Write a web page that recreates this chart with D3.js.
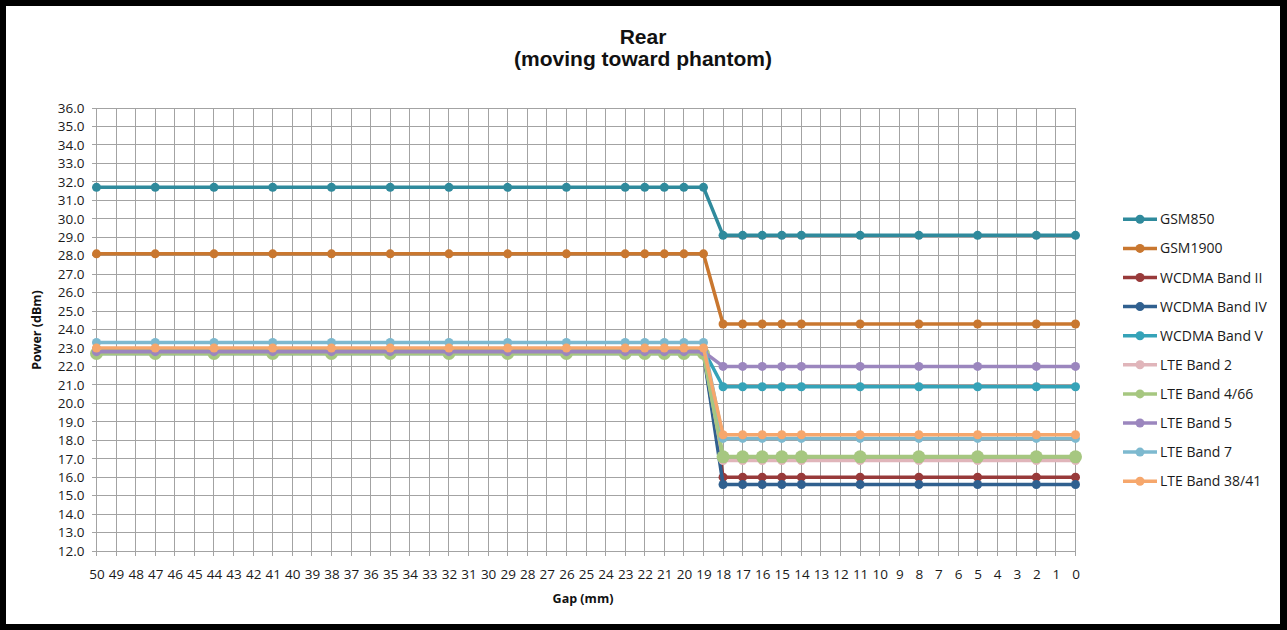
<!DOCTYPE html>
<html><head><meta charset="utf-8">
<script src="https://cdn.jsdelivr.net/npm/d3@7"></script>
<style>body{margin:0;background:#000;overflow:hidden}svg{display:block}</style>
</head><body>
<svg id="c" width="1287" height="630"></svg>
<script>
// ---- data ----
const categories = ["50","49","48","47","46","45","44","43","42","41","40","39","38","37","36","35","34","33","32","31","30","29","28","27","26","25","24","23","22","21","20","19","18","17","16","15","14","13","12","11","10","9","8","7","6","5","4","3","2","1","0"];
const yTicks = [12,13,14,15,16,17,18,19,20,21,22,23,24,25,26,27,28,29,30,31,32,33,34,35,36];
const measuredGaps = ["50","47","44","41","38","35","32","29","26","23","22","21","20","19","18","17","16","15","14","11","8","5","2","0"];
const seriesNames = ["GSM850","GSM1900","WCDMA Band II","WCDMA Band IV","WCDMA Band V","LTE Band 2","LTE Band 4/66","LTE Band 5","LTE Band 7","LTE Band 38/41"];
const gsm850    = [31.7,31.7,31.7,31.7,31.7,31.7,31.7,31.7,31.7,31.7,31.7,31.7,31.7,31.7,29.1,29.1,29.1,29.1,29.1,29.1,29.1,29.1,29.1,29.1];
const gsm1900   = [28.1,28.1,28.1,28.1,28.1,28.1,28.1,28.1,28.1,28.1,28.1,28.1,28.1,28.1,24.3,24.3,24.3,24.3,24.3,24.3,24.3,24.3,24.3,24.3];
const wcdmaII   = [22.8,22.8,22.8,22.8,22.8,22.8,22.8,22.8,22.8,22.8,22.8,22.8,22.8,22.8,16.0,16.0,16.0,16.0,16.0,16.0,16.0,16.0,16.0,16.0];
const wcdmaIV   = [22.7,22.7,22.7,22.7,22.7,22.7,22.7,22.7,22.7,22.7,22.7,22.7,22.7,22.7,15.6,15.6,15.6,15.6,15.6,15.6,15.6,15.6,15.6,15.6];
const wcdmaV    = [22.9,22.9,22.9,22.9,22.9,22.9,22.9,22.9,22.9,22.9,22.9,22.9,22.9,22.9,20.9,20.9,20.9,20.9,20.9,20.9,20.9,20.9,20.9,20.9];
const lte2      = [22.8,22.8,22.8,22.8,22.8,22.8,22.8,22.8,22.8,22.8,22.8,22.8,22.8,22.8,16.9,16.9,16.9,16.9,16.9,16.9,16.9,16.9,16.9,16.9];
const lte4_66   = [22.7,22.7,22.7,22.7,22.7,22.7,22.7,22.7,22.7,22.7,22.7,22.7,22.7,22.7,17.1,17.1,17.1,17.1,17.1,17.1,17.1,17.1,17.1,17.1];
const lte5      = [22.8,22.8,22.8,22.8,22.8,22.8,22.8,22.8,22.8,22.8,22.8,22.8,22.8,22.8,22.0,22.0,22.0,22.0,22.0,22.0,22.0,22.0,22.0,22.0];
const lte7      = [23.3,23.3,23.3,23.3,23.3,23.3,23.3,23.3,23.3,23.3,23.3,23.3,23.3,23.3,18.1,18.1,18.1,18.1,18.1,18.1,18.1,18.1,18.1,18.1];
const lte38_41  = [23.0,23.0,23.0,23.0,23.0,23.0,23.0,23.0,23.0,23.0,23.0,23.0,23.0,23.0,18.3,18.3,18.3,18.3,18.3,18.3,18.3,18.3,18.3,18.3];
const seriesValues = [gsm850,gsm1900,wcdmaII,wcdmaIV,wcdmaV,lte2,lte4_66,lte5,lte7,lte38_41];
const seriesColors = ["#2F8A9C","#C9772F","#983A3A","#30608F","#35A3B8","#E0B5BA","#A6C780","#9B86BE","#7DB9CF","#F6A76C"];

// ---- layout ----
const svg = d3.select("#c");
svg.append("rect").attr("width",1287).attr("height",630).attr("fill","#000");
svg.append("rect").attr("x",6).attr("y",6).attr("width",1274).attr("height",618).attr("fill","#fff");

const x = d3.scalePoint().domain(categories).range([96.5, 1075.5]);
const y = d3.scaleLinear().domain([12,36]).range([551,108]);
const gridColor = "#A3A3A3";
const fontTick = "'Open Sans', sans-serif";

// gridlines
const g = svg.append("g");
g.selectAll("line.h").data(yTicks).join("line")
  .attr("x1",x("50")-5).attr("x2",x("0")).attr("y1",d=>y(d)).attr("y2",d=>y(d))
  .attr("stroke",gridColor).attr("stroke-width",1).attr("shape-rendering","crispEdges");
g.selectAll("line.v").data(categories).join("line")
  .attr("x1",d=>x(d)).attr("x2",d=>x(d)).attr("y1",y(36)).attr("y2",y(12)+5)
  .attr("stroke",gridColor).attr("stroke-width",1).attr("shape-rendering","crispEdges");

// axes labels via d3 axes
const xAxis = svg.append("g").attr("transform",`translate(0,${y(12)})`)
  .call(d3.axisBottom(x).tickSize(0).tickPadding(18));
xAxis.select(".domain").remove();
xAxis.selectAll("text").attr("font-family",fontTick).attr("font-size",13.5).attr("fill","#1a1a1a");

const yAxis = svg.append("g").attr("transform",`translate(${x("50")},0)`)
  .call(d3.axisLeft(y).tickValues(yTicks).tickFormat(d3.format(".1f")).tickSize(0).tickPadding(12));
yAxis.select(".domain").remove();
yAxis.selectAll("text").attr("font-family",fontTick).attr("font-size",13.5).attr("fill","#1a1a1a");

// series
const line = d3.line().x(d=>x(d.gap)).y(d=>y(d.v));
seriesNames.forEach((name,i)=>{
  const pts = measuredGaps.map((gap,j)=>({gap, v: seriesValues[i][j]}));
  const big = name === "LTE Band 4/66";
  svg.append("path").datum(pts).attr("d",line)
    .attr("fill","none").attr("stroke",seriesColors[i])
    .attr("stroke-width", big ? 4 : 3.5).attr("stroke-linejoin","round");
  svg.append("g").selectAll("circle").data(pts).join("circle")
    .attr("cx",d=>x(d.gap)).attr("cy",d=>y(d.v)).attr("r", big ? 6.5 : 4.5)
    .attr("fill",seriesColors[i]);
});

// titles
svg.append("text").attr("x",643).attr("y",44).attr("text-anchor","middle")
  .attr("font-family","'Liberation Sans', Arial, sans-serif").attr("font-weight","bold").attr("font-size",21).attr("fill","#111").text("Rear");
svg.append("text").attr("x",643).attr("y",66).attr("text-anchor","middle")
  .attr("font-family","'Liberation Sans', Arial, sans-serif").attr("font-weight","bold").attr("font-size",21).attr("fill","#111").text("(moving toward phantom)");
svg.append("text").attr("transform","translate(41,330) rotate(-90)").attr("text-anchor","middle")
  .attr("font-family",fontTick).attr("font-weight","bold").attr("font-size",12.5).attr("fill","#111").text("Power (dBm)");
svg.append("text").attr("x",583).attr("y",603).attr("text-anchor","middle")
  .attr("font-family",fontTick).attr("font-weight","bold").attr("font-size",12.5).attr("fill","#111").text("Gap (mm)");

// legend
const lg = svg.append("g");
seriesNames.forEach((name,i)=>{
  const ly = 219.3 + i*29.1;
  lg.append("line").attr("x1",1123).attr("x2",1157).attr("y1",ly).attr("y2",ly)
    .attr("stroke",seriesColors[i]).attr("stroke-width",3.5);
  lg.append("circle").attr("cx",1140).attr("cy",ly).attr("r",4.5).attr("fill",seriesColors[i]);
  lg.append("text").attr("x",1160).attr("y",ly+5).attr("font-family",fontTick).attr("font-size",14)
    .attr("fill","#1a1a1a").text(name);
});
</script>
</body></html>
